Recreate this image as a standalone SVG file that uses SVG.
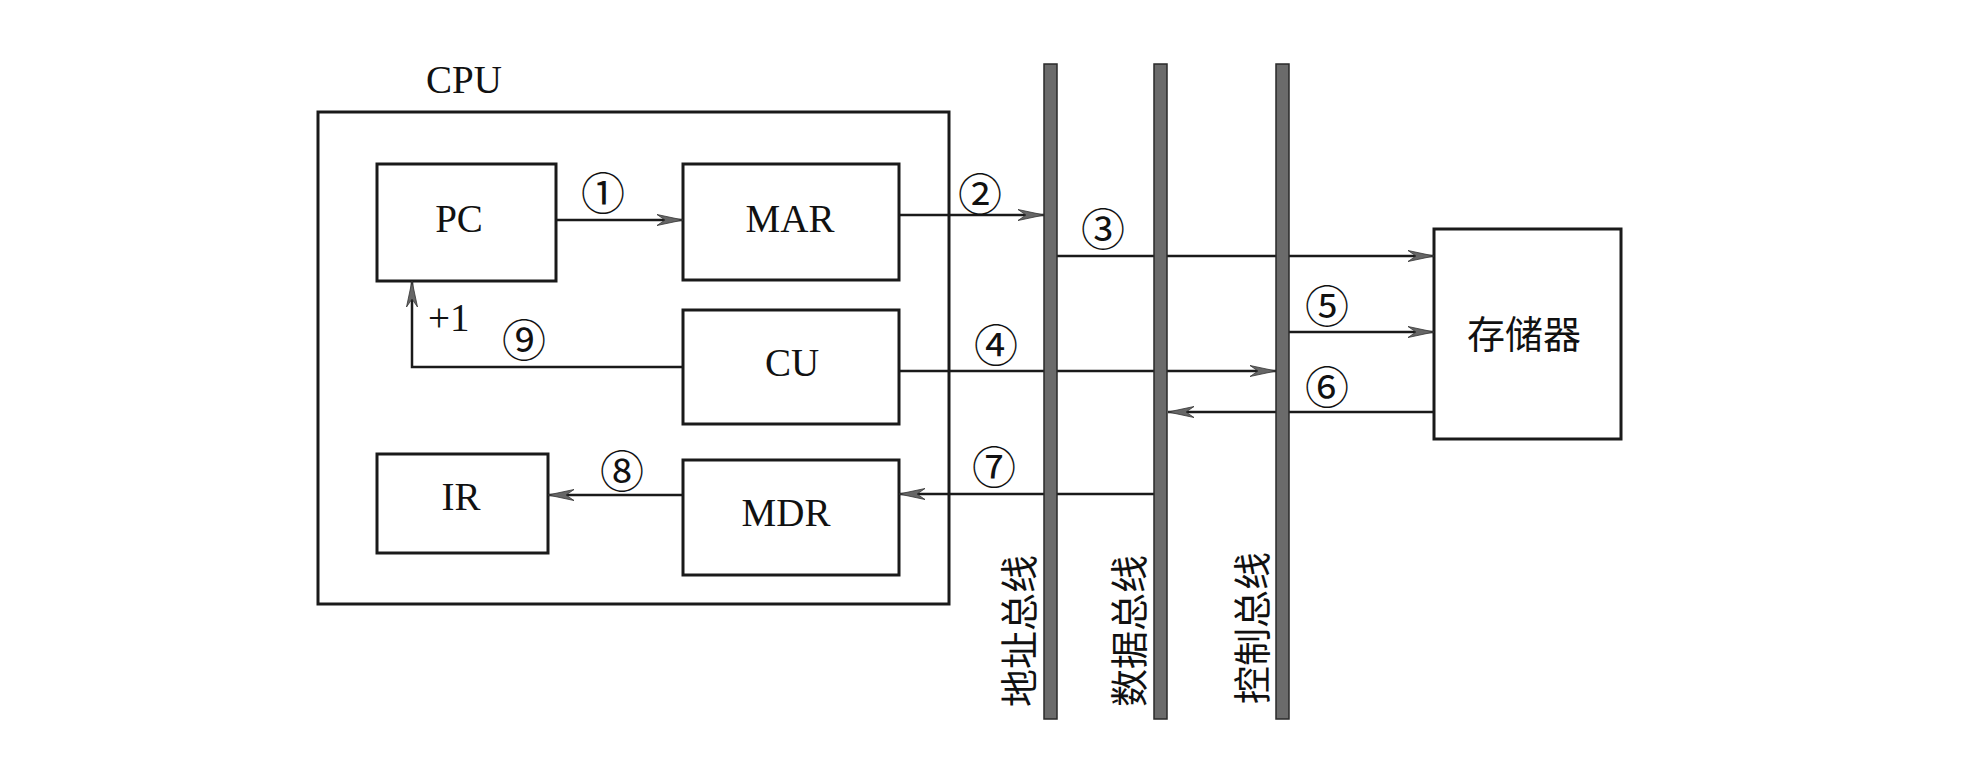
<svg xmlns="http://www.w3.org/2000/svg" width="1976" height="762" viewBox="0 0 1976 762">
<style>
.box{fill:none;stroke:#1a1a1a;stroke-width:3}
.ln{fill:none;stroke:#1a1a1a;stroke-width:2.5}
.bus{fill:#6b6b6b;stroke:#2a2a2a;stroke-width:1.5}
.t{font-family:"Liberation Serif","Times New Roman",serif;font-size:39px;fill:#111}
.c{font-family:"Noto Sans CJK SC","DejaVu Sans",sans-serif;font-size:44px;fill:#111;text-anchor:middle;dominant-baseline:central}
.z{font-family:"Noto Sans CJK SC",sans-serif;font-size:38px;fill:#111}
</style>
<defs>
<marker id="ah" viewBox="-28 -7 30 14" markerWidth="30" markerHeight="14" refX="0" refY="0" orient="auto" markerUnits="userSpaceOnUse">
<path d="M0,0 L-26,-5.5 L-18,0 L-26,5.5 Z" fill="#666" stroke="#333" stroke-width="0.8"/>
</marker>
</defs>
<rect width="1976" height="762" fill="#fff"/>
<g id="cpu">
<rect class="box" x="318" y="112" width="631" height="492"/>
<text class="t" x="426" y="93">CPU</text>
</g>
<g id="pc"><rect class="box" x="377" y="164" width="179" height="117"/><text class="t" x="459" y="232" text-anchor="middle">PC</text></g>
<g id="mar"><rect class="box" x="683" y="164" width="216" height="116"/><text class="t" x="790" y="232" text-anchor="middle">MAR</text></g>
<g id="cu"><rect class="box" x="683" y="310" width="216" height="114"/><text class="t" x="792" y="376" text-anchor="middle">CU</text></g>
<g id="ir"><rect class="box" x="377" y="454" width="171" height="99"/><text class="t" x="461" y="510" text-anchor="middle">IR</text></g>
<g id="mdr"><rect class="box" x="683" y="460" width="216" height="115"/><text class="t" x="786" y="526" text-anchor="middle">MDR</text></g>
<g id="memory"><rect class="box" x="1434" y="229" width="187" height="210"/><text class="z" x="1524" y="348" text-anchor="middle">存储器</text></g>
<g id="connectors">
<line class="ln" x1="556" y1="220" x2="683" y2="220" marker-end="url(#ah)"/>
<line class="ln" x1="899" y1="215" x2="1044" y2="215" marker-end="url(#ah)"/>
<line class="ln" x1="1057" y1="256" x2="1434" y2="256" marker-end="url(#ah)"/>
<line class="ln" x1="899" y1="371" x2="1276" y2="371" marker-end="url(#ah)"/>
<line class="ln" x1="1289" y1="332" x2="1434" y2="332" marker-end="url(#ah)"/>
<line class="ln" x1="1434" y1="412" x2="1168" y2="412" marker-end="url(#ah)"/>
<line class="ln" x1="1154" y1="494" x2="899" y2="494" marker-end="url(#ah)"/>
<line class="ln" x1="683" y1="495" x2="548" y2="495" marker-end="url(#ah)"/>
<path class="ln" d="M683,367 H412 V281" marker-end="url(#ah)"/>
<text class="t" x="428" y="331" font-size="37">+1</text>
<text class="c" x="603" y="191">①</text>
<text class="c" x="980" y="192">②</text>
<text class="c" x="1103" y="227">③</text>
<text class="c" x="996" y="343">④</text>
<text class="c" x="1327" y="304">⑤</text>
<text class="c" x="1327" y="385">⑥</text>
<text class="c" x="994" y="465">⑦</text>
<text class="c" x="622" y="469">⑧</text>
<text class="c" x="524" y="338">⑨</text>
</g>
<g id="address-bus">
<rect class="bus" x="1044" y="64" width="13" height="655"/>
<text class="z" x="1016" y="631" text-anchor="middle" dominant-baseline="central" transform="rotate(-90 1016 631)">地址总线</text>
</g>
<g id="data-bus">
<rect class="bus" x="1154" y="64" width="13" height="655"/>
<text class="z" x="1126" y="631" text-anchor="middle" dominant-baseline="central" transform="rotate(-90 1126 631)">数据总线</text>
</g>
<g id="control-bus">
<rect class="bus" x="1276" y="64" width="13" height="655"/>
<text class="z" x="1249" y="628" text-anchor="middle" dominant-baseline="central" transform="rotate(-90 1249 628)">控制总线</text>
</g>
</svg>
